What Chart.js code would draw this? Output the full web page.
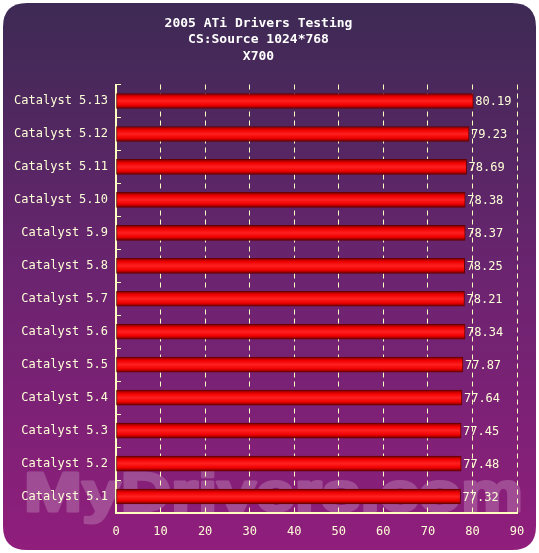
<!DOCTYPE html>
<html>
<head>
<meta charset="utf-8">
<script src="https://cdn.jsdelivr.net/npm/chart.js@4/dist/chart.umd.min.js"></script>
<style>
  html, body { margin: 0; padding: 0; background: #fff; }
  #wrap { width: 539px; height: 553px; }
</style>
</head>
<body>
<div id="wrap"><canvas id="chart" width="539" height="553"></canvas></div>
<script>
// chart data
var titleLines = ['2005 ATi Drivers Testing', 'CS:Source 1024*768', 'X700'];
var drivers = ['Catalyst 5.13', 'Catalyst 5.12', 'Catalyst 5.11', 'Catalyst 5.10', 'Catalyst 5.9',
               'Catalyst 5.8', 'Catalyst 5.7', 'Catalyst 5.6', 'Catalyst 5.5', 'Catalyst 5.4',
               'Catalyst 5.3', 'Catalyst 5.2', 'Catalyst 5.1'];
var fps = [80.19, 79.23, 78.69, 78.38, 78.37, 78.25, 78.21, 78.34, 77.87, 77.64, 77.45, 77.48, 77.32];
var xMin = 0, xMax = 90, xStep = 10;
var watermark = 'MyDrivers.com';

var axisColor = '#ffffc0';
var textColor = '#ffffd8';
var mono = '"DejaVu Sans Mono", "Liberation Mono", monospace';

function roundRect(ctx, x, y, w, h, r) {
    ctx.beginPath();
    ctx.moveTo(x + r, y);
    ctx.lineTo(x + w - r, y);
    ctx.quadraticCurveTo(x + w, y, x + w, y + r);
    ctx.lineTo(x + w, y + h - r);
    ctx.quadraticCurveTo(x + w, y + h, x + w - r, y + h);
    ctx.lineTo(x + r, y + h);
    ctx.quadraticCurveTo(x, y + h, x, y + h - r);
    ctx.lineTo(x, y + r);
    ctx.quadraticCurveTo(x, y, x + r, y);
    ctx.closePath();
}

// watermark drawn opaque on its own layer, then blended in
function watermarkLayer(width, height) {
    var c = document.createElement('canvas');
    c.width = width;
    c.height = height;
    var wctx = c.getContext('2d');
    wctx.font = 'bold 56px "Liberation Sans", Arial, sans-serif';
    var w = wctx.measureText(watermark).width;
    wctx.translate(24, 511);
    wctx.scale(499 / w, 1);
    wctx.fillStyle = '#ffffff';
    wctx.strokeStyle = '#ffffff';
    wctx.lineWidth = 3;
    wctx.lineJoin = 'round';
    wctx.fillText(watermark, 0, 0);
    wctx.strokeText(watermark, 0, 0);
    return c;
}

var panelPlugin = {
    id: 'panel',
    beforeDraw: function(chart) {
        var ctx = chart.ctx;
        ctx.save();
        ctx.fillStyle = '#ffffff';
        ctx.fillRect(0, 0, chart.width, chart.height);
        var g = ctx.createLinearGradient(0, 3, 0, 550);
        g.addColorStop(0, '#3d2a54');
        g.addColorStop(0.5, '#6b2470');
        g.addColorStop(1, '#901e7c');
        roundRect(ctx, 3, 3, 533, 547, 24);
        ctx.fillStyle = g;
        ctx.fill();
        ctx.globalAlpha = 0.2;
        ctx.drawImage(watermarkLayer(chart.width, chart.height), 0, 0);
        ctx.restore();
    }
};

// value labels at bar ends
var valuePlugin = {
    id: 'values',
    afterDatasetsDraw: function(chart) {
        var ctx = chart.ctx;
        var meta = chart.getDatasetMeta(0);
        ctx.save();
        ctx.font = '12px ' + mono;
        ctx.fillStyle = textColor;
        ctx.textAlign = 'left';
        ctx.textBaseline = 'middle';
        meta.data.forEach(function(bar, i) {
            ctx.fillText(fps[i].toFixed(2), bar.x + 2, bar.y + 1);
        });
        ctx.restore();
    }
};

function barFill(context) {
    var chart = context.chart;
    if (!chart.chartArea || !chart.scales.y) return '#ff0000';
    var y = chart.scales.y.getPixelForValue(context.dataIndex);
    var g = chart.ctx.createLinearGradient(0, y - 7.5, 0, y + 7.5);
    g.addColorStop(0, '#7a0000');
    g.addColorStop(0.22, '#ee0000');
    g.addColorStop(0.5, '#ff2020');
    g.addColorStop(0.78, '#ee0000');
    g.addColorStop(1, '#6a0000');
    return g;
}

var ticks = [];
for (var v = xMin; v <= xMax; v += xStep) ticks.push(v);

new Chart(document.getElementById('chart'), {
    type: 'bar',
    data: {
        labels: drivers,
        datasets: [{
            data: fps,
            backgroundColor: barFill,
            borderColor: '#660000',
            borderWidth: 1,
            borderSkipped: false,
            barThickness: 15
        }]
    },
    options: {
        indexAxis: 'y',
        responsive: false,
        animation: false,
        layout: { padding: { left: 0, right: 22, top: 0, bottom: 0 } },
        plugins: {
            legend: { display: false },
            tooltip: { enabled: false },
            title: {
                display: true,
                text: titleLines,
                color: '#ffffff',
                font: { family: mono, size: 13, weight: 'bold', lineHeight: 1.27 },
                padding: { top: 15, bottom: 20 }
            }
        },
        scales: {
            x: {
                min: xMin,
                max: xMax,
                afterBuildTicks: function(scale) {
                    scale.ticks = ticks.map(function(t) { return { value: t }; });
                },
                afterFit: function(scale) {
                    scale.height = 40;
                    scale.paddingLeft = 0;
                    scale.paddingRight = 8;
                },
                border: { display: true, color: axisColor, width: 2, dash: [5, 4] },
                grid: {
                    color: axisColor,
                    lineWidth: 1,
                    drawTicks: true,
                    tickLength: -5,
                    tickColor: axisColor,
                    tickBorderDash: []
                },
                ticks: {
                    color: textColor,
                    font: { family: mono, size: 12 },
                    padding: 17
                }
            },
            y: {
                afterFit: function(scale) { scale.width = 116; },
                border: { display: true, color: axisColor, width: 2 },
                grid: {
                    drawOnChartArea: false,
                    drawTicks: true,
                    tickLength: -5,
                    color: axisColor,
                    tickBorderDash: [],
                    offset: true
                },
                ticks: {
                    color: textColor,
                    font: { family: mono, size: 12 },
                    padding: 13
                }
            }
        }
    },
    plugins: [panelPlugin, valuePlugin]
});
</script>
</body>
</html>
